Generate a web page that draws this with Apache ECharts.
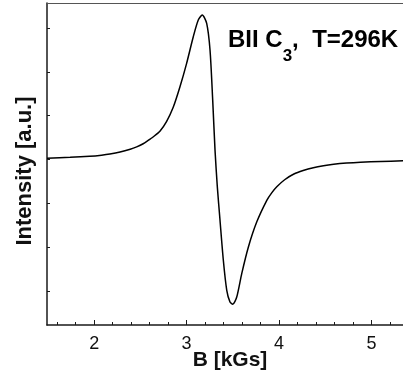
<!DOCTYPE html>
<html>
<head>
<meta charset="utf-8">
<script src="https://cdn.jsdelivr.net/npm/echarts@6/dist/echarts.min.js"></script>
<style>
  html, body { margin: 0; padding: 0; background: #fff; }
  #chart { width: 403px; height: 378px; }
</style>
</head>
<body>
<div id="chart"></div>
<script>
// field B (kGs) and EPR derivative intensity (a.u., one tick = 1)
const bField = [1.49, 1.74, 1.95, 2.08, 2.17, 2.28, 2.39, 2.46, 2.53, 2.58, 2.64, 2.711, 2.784, 2.855, 2.928, 3.000, 3.072, 3.126, 3.169, 3.217, 3.253, 3.282, 3.307, 3.332, 3.361, 3.397, 3.434, 3.469, 3.499, 3.542, 3.596, 3.668, 3.759, 3.867, 3.92, 3.975, 4.06, 4.16, 4.26, 4.37, 4.48, 4.59, 4.73, 4.88, 5.10, 5.34]
const intensity = [0.03, 0.05, 0.075, 0.10, 0.125, 0.17, 0.235, 0.29, 0.36, 0.43, 0.52, 0.645, 0.87, 1.19, 1.659, 2.193, 2.799, 3.180, 3.294, 3.105, 2.496, 1.355, 0.214, -0.623, -1.383, -2.295, -2.980, -3.247, -3.299, -3.133, -2.599, -1.992, -1.42, -0.93, -0.76, -0.62, -0.46, -0.33, -0.25, -0.185, -0.14, -0.108, -0.08, -0.06, -0.042, -0.03]

const xMajorTicks = [2, 3, 4, 5]
const xMinorTicks = [1.6, 1.8, 2.2, 2.4, 2.6, 2.8, 3.2, 3.4, 3.6, 3.8, 4.2, 4.4, 4.6, 4.8, 5.2]
const yTicks = [-3, -2, -1, 0, 1, 2, 3]

const font = '"Liberation Sans", Arial, sans-serif'
const axisColor = '#1a1a1a'

const chart = echarts.init(document.getElementById('chart'))

const points = bField.map((b, i) => [b, intensity[i]])

chart.setOption({
  animation: false,
  grid: { left: 47, right: 0, top: 3, bottom: 53, containLabel: false },
  xAxis: [
    {
      type: 'value',
      min: 1.49,
      max: 5.34,
      position: 'bottom',
      axisLine: { onZero: false, lineStyle: { color: axisColor, width: 1.5 } },
      axisTick: { inside: true, length: 5, customValues: xMajorTicks, lineStyle: { color: axisColor } },
      axisLabel: { customValues: xMajorTicks, fontFamily: font, fontSize: 18, color: '#111', margin: 10 },
      splitLine: { show: false }
    },
    {
      type: 'value',
      min: 1.49,
      max: 5.34,
      position: 'bottom',
      axisLine: { show: false, onZero: false },
      axisTick: { inside: true, length: 3, customValues: xMinorTicks, lineStyle: { color: axisColor } },
      axisLabel: { show: false },
      splitLine: { show: false }
    },
    {
      type: 'value',
      min: 1.49,
      max: 5.34,
      position: 'top',
      axisLine: { onZero: false, lineStyle: { color: '#555', width: 1.2 } },
      axisTick: { show: false },
      axisLabel: { show: false },
      splitLine: { show: false }
    }
  ],
  yAxis: {
    type: 'value',
    min: -3.771,
    max: 3.568,
    axisLine: { show: true, onZero: false, lineStyle: { color: axisColor, width: 1.5 } },
    axisTick: { show: true, inside: true, length: 3, customValues: yTicks, lineStyle: { color: axisColor } },
    axisLabel: { show: false },
    splitLine: { show: false }
  },
  graphic: [
    {
      type: 'text',
      x: 25,
      y: 171,
      rotation: Math.PI / 2,
      style: {
        text: 'Intensity [a.u.]',
        font: 'bold 22px ' + font,
        fill: '#111',
        align: 'center',
        verticalAlign: 'middle'
      }
    },
    {
      type: 'text',
      x: 230,
      y: 360,
      style: {
        text: 'B [kGs]',
        font: 'bold 21px ' + font,
        fill: '#111',
        align: 'center',
        verticalAlign: 'middle'
      }
    },
    {
      type: 'text',
      x: 228,
      y: 40,
      style: {
        text: '{a|BII C}{s|3}{a|,  T=296K}',
        align: 'left',
        verticalAlign: 'middle',
        rich: {
          a: { fontFamily: font, fontWeight: 'bold', fontSize: 24, color: '#111', lineHeight: 50, verticalAlign: 'middle' },
          s: { fontFamily: font, fontWeight: 'bold', fontSize: 17, color: '#111', lineHeight: 50, verticalAlign: 'bottom' }
        }
      }
    }
  ],
  series: [
    {
      type: 'line',
      xAxisIndex: 0,
      data: points,
      smooth: 0.25,
      showSymbol: false,
      lineStyle: { color: '#000', width: 1.5 }
    }
  ]
})
</script>
</body>
</html>
